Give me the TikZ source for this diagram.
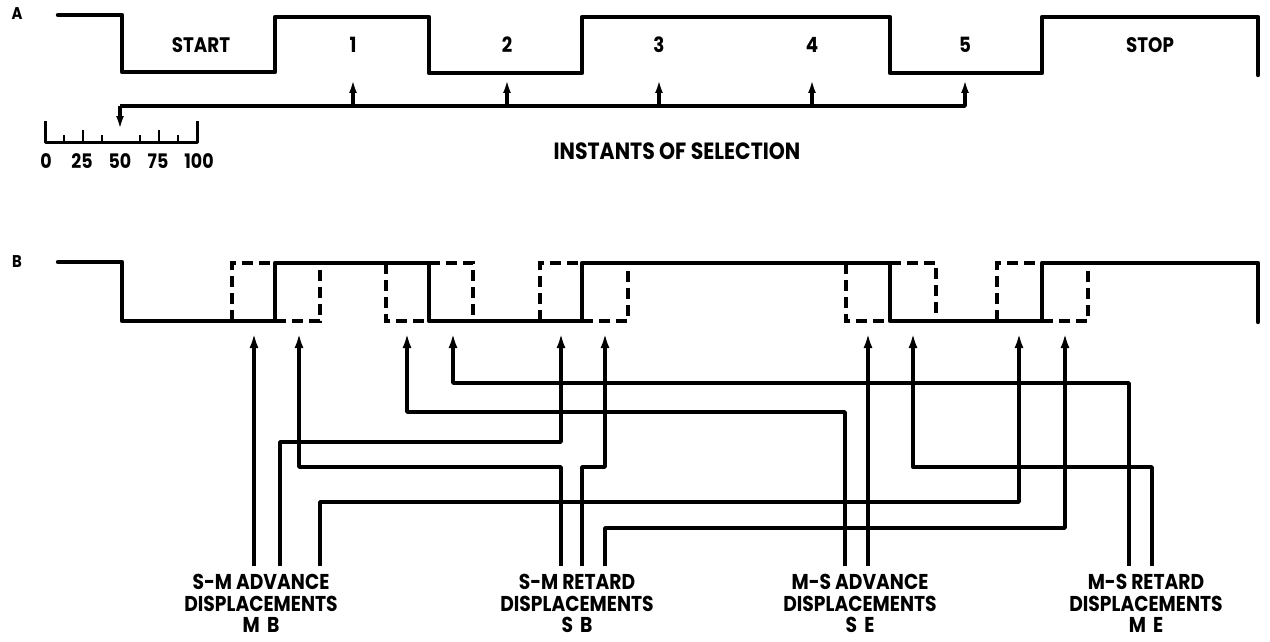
\documentclass[tikz,border=0pt]{standalone}
\usepackage{fontspec}
\setmainfont{Poppins}[FakeStretch=0.87]
\usetikzlibrary{arrows.meta}
\begin{document}
\begin{tikzpicture}[x=1pt,y=-1pt,
  wave/.style={line width=4.4pt,line join=round,line cap=round},
  ghost/.style={line width=3.4pt,dash pattern=on 11pt off 6pt},
  conn/.style={line width=3.4pt,line join=round},
  arr/.style={conn,-{Latex[length=15pt,width=9pt]}},
  sarr/.style={conn,-{Latex[length=13pt,width=8pt]}},
  txt/.style={font=\bfseries\fontsize{21}{22}\selectfont,inner sep=0pt},
  lbl/.style={font=\bfseries\fontsize{21.5}{21.5}\selectfont,align=center,inner sep=0pt,anchor=north},
  num/.style={font=\bfseries\fontsize{20}{20}\selectfont,inner sep=0pt}]
\useasboundingbox (0,0) rectangle (1270,642);
\fill[white] (0,0) rectangle (1270,642);

% ---------- row labels
\node[txt,font=\bfseries\fontsize{17}{17}\selectfont] (labA) at (17,14) {A};
\node[txt,font=\bfseries\fontsize{17}{17}\selectfont] (labB) at (17,262) {B};

% ---------- waveform A
\draw[wave] (58,15) -| (122,72) -| (275,17) -| (429,73) -| (582,17) -| (890,73) -| (1042,17) -| (1258,75);
\node[txt] (tStart) at (201,45) {START};
\node[txt] (t1) at (353,45) {1};
\node[txt] (t2) at (507,45) {2};
\node[txt] (t3) at (659,45) {3};
\node[txt] (t4) at (812,45) {4};
\node[txt] (t5) at (965,45) {5};
\node[txt] (tStop) at (1150,45) {STOP};

% ---------- instants of selection
\coordinate (selL) at (120,106);
\coordinate (selR) at (965,106);
\coordinate (s50) at (120,129);
\foreach \n/\x in {1/353,2/507,3/659,4/812}{
  \coordinate (u\n) at (\x,80);
  \draw[sarr] (u\n |- selL) -- (u\n);
}
\coordinate (u5) at (965,80);
\draw[sarr] (selL) -- (selR) -- (u5);
\draw[sarr] (selL) -- (s50);
\node[txt,font=\bfseries\fontsize{23.5}{24}\selectfont] (inst) at (677,151) {INSTANTS OF SELECTION};

% ---------- scale
\draw[line width=3pt,line join=round] (45,121) -- (45,142) -- (197,142) -- (197,121);
\foreach \k in {1,3,5,7}{ \draw[line width=2.6pt] (45+19*\k,142) -- (45+19*\k,135); }
\foreach \k in {2,6}{ \draw[line width=2.6pt] (45+19*\k,142) -- (45+19*\k,130); }
\node[num] (n0) at (46,161) {0};
\node[num] (n25) at (82,161) {25};
\node[num] (n50) at (120,161) {50};
\node[num] (n75) at (158,161) {75};
\node[num] (n100) at (199,161) {100};

% ---------- waveform B (displaced transitions dashed)
\draw[ghost] (232,321) -- (232,263) -- (275,263);
\draw[ghost] (275,321) -- (320,321) -- (320,263);
\draw[ghost] (386,263) -- (386,321) -- (429,321);
\draw[ghost] (429,263) -- (473,263) -- (473,321);
\draw[ghost] (540,321) -- (540,263) -- (582,263);
\draw[ghost] (582,321) -- (628,321) -- (628,263);
\draw[ghost] (846,263) -- (846,321) -- (890,321);
\draw[ghost] (890,263) -- (936,263) -- (936,321);
\draw[ghost] (997,321) -- (997,263) -- (1042,263);
\draw[ghost] (1042,321) -- (1088,321) -- (1088,263);
\draw[wave] (58,262) -| (122,321) -| (275,263) -| (429,321) -| (582,263) -| (890,321) -| (1042,263) -| (1258,322);

% ---------- arrow tips under waveform B
\foreach \n/\x in {1/254,2/299,3/407,4/453,5/561,6/605,7/868,8/913,9/1019,10/1065}{
  \coordinate (a\n) at (\x,333);
}
% ---------- routing levels
\coordinate (h1) at (0,383);
\coordinate (h2) at (0,412);
\coordinate (h3) at (0,442);
\coordinate (h4) at (0,467);
\coordinate (h5) at (0,502);
\coordinate (h6) at (0,528);
% ---------- bottom ends
\coordinate (mb1) at (254,566);
\coordinate (mb2) at (280,566);
\coordinate (mb3) at (320,566);
\coordinate (sb1) at (561,566);
\coordinate (sb2) at (582,566);
\coordinate (sb3) at (605,566);
\coordinate (se1) at (845,566);
\coordinate (se2) at (868,566);
\coordinate (me1) at (1129,566);
\coordinate (me2) at (1152,566);

\draw[arr] (mb1) -- (a1);
\draw[arr] (sb1) |- (h4 -| a2) -- (a2);
\draw[arr] (se1) |- (h2 -| a3) -- (a3);
\draw[arr] (me1) |- (h1 -| a4) -- (a4);
\draw[arr] (mb2) |- (h3 -| a5) -- (a5);
\draw[arr] (sb2) |- (h4 -| a6) -- (a6);
\draw[arr] (se2) -- (a7);
\draw[arr] (me2) |- (h4 -| a8) -- (a8);
\draw[arr] (mb3) |- (h5 -| a9) -- (a9);
\draw[arr] (sb3) |- (h6 -| a10) -- (a10);

% ---------- group labels
\node[lbl] (gMB) at (261,574) {S-M ADVANCE\\DISPLACEMENTS\\M\,\,B};
\node[lbl] (gSB) at (577,574) {S-M RETARD\\DISPLACEMENTS\\S\,\,B};
\node[lbl] (gSE) at (860,574) {M-S ADVANCE\\DISPLACEMENTS\\S\,\,E};
\node[lbl] (gME) at (1146,574) {M-S RETARD\\DISPLACEMENTS\\M\,\,E};
\end{tikzpicture}
\end{document}
